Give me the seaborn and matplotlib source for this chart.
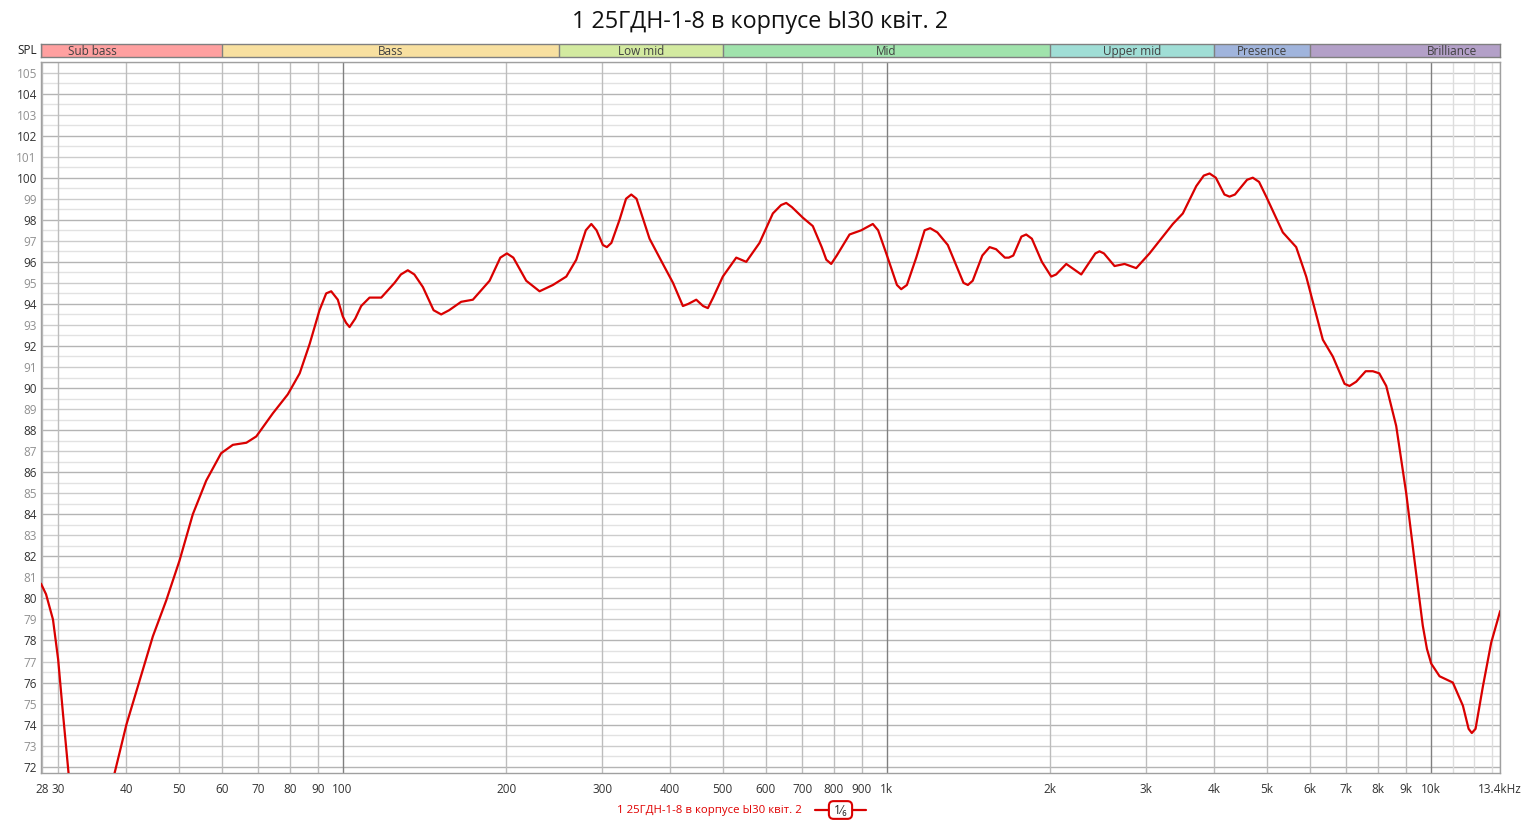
import numpy as np
import pandas as pd
import seaborn as sns
import matplotlib.pyplot as plt
from matplotlib.lines import Line2D

freq_hz = [27.9, 28.5, 29.35, 30.0, 30.6, 31.35, 32.5, 34.5, 36.5, 38.1,
           40.05, 42.35, 44.8, 47.4, 50.15, 53.05, 56.15, 59.8, 62.85, 66.55,
           69.4, 74.45, 79.3, 83.4, 87.0, 90.7, 93.3, 95.3, 98.0, 100.1,
           101.5, 103.0, 105.5, 108.2, 112.1, 117.8, 124.6, 128, 131.8, 135.5,
           140.5, 147, 151.8, 157, 165.2, 173.6, 186.3, 195, 200.5, 206,
           217.6, 230.2, 243.6, 257.8, 268.9, 280, 286.6, 293, 301, 306.1,
           312, 323.0, 332, 339.4, 347, 366.7, 388.0, 405, 422.3, 432,
           446.9, 460, 469.4, 480, 500.1, 529.3, 552.2, 584.1, 618.0, 640,
           654.0, 670, 701.6, 731.9, 760, 775, 791.2, 810, 855.0, 898.5,
           943.6, 965, 998.8, 1045, 1064, 1090, 1134, 1175, 1203, 1240,
           1296, 1385, 1411, 1440, 1500, 1547, 1590, 1650, 1678, 1710,
           1770, 1806, 1850, 1930, 2008, 2050, 2140, 2280, 2420, 2463,
           2510, 2625, 2739, 2877, 3044, 3360, 3505, 3710, 3830, 3925,
           4030, 4180, 4271, 4370, 4600, 4713, 4840, 4989, 5352, 5663,
           5909, 6339, 6613, 6950, 7097, 7300, 7600, 7834, 8050, 8291,
           8648, 9023, 9346, 9679, 9850, 10030, 10390, 10990, 11470, 11750,
           11910, 12100, 12480, 12930, 13430]
spl_db = [80.7, 80.2, 79.0, 77.1, 74.6, 71.7, 69.5, 67.5, 69.5, 71.7,
          74.0, 76.1, 78.2, 79.9, 81.8, 84.0, 85.6, 86.9, 87.3, 87.4,
          87.7, 88.8, 89.7, 90.7, 92.1, 93.7, 94.5, 94.6, 94.2, 93.4,
          93.1, 92.9, 93.3, 93.9, 94.3, 94.3, 95.0, 95.4, 95.6, 95.4,
          94.8, 93.7, 93.5, 93.7, 94.1, 94.2, 95.1, 96.2, 96.4, 96.2,
          95.1, 94.6, 94.9, 95.3, 96.1, 97.5, 97.8, 97.5, 96.8, 96.7,
          96.9, 98.0, 99.0, 99.2, 99.0, 97.1, 95.9, 95.0, 93.9, 94.0,
          94.2, 93.9, 93.8, 94.3, 95.3, 96.2, 96.0, 96.9, 98.3, 98.7,
          98.8, 98.6, 98.1, 97.7, 96.7, 96.1, 95.9, 96.3, 97.3, 97.5,
          97.8, 97.5, 96.4, 94.9, 94.7, 94.9, 96.2, 97.5, 97.6, 97.4,
          96.8, 95.0, 94.9, 95.1, 96.3, 96.7, 96.6, 96.2, 96.2, 96.3,
          97.2, 97.3, 97.1, 96.0, 95.3, 95.4, 95.9, 95.4, 96.4, 96.5,
          96.4, 95.8, 95.9, 95.7, 96.4, 97.8, 98.3, 99.6, 100.1, 100.2,
          100.0, 99.2, 99.1, 99.2, 99.9, 100.0, 99.8, 99.1, 97.4, 96.7,
          95.3, 92.3, 91.5, 90.2, 90.1, 90.3, 90.8, 90.8, 90.7, 90.1,
          88.2, 85.0, 81.8, 78.7, 77.6, 76.9, 76.3, 76.0, 74.9, 73.8,
          73.6, 73.8, 75.8, 77.9, 79.4]

tick_freqs = [28, 30, 40, 50, 60, 70, 80, 90, 100, 200, 300, 400, 500, 600, 700,
              800, 900, 1000, 2000, 3000, 4000, 5000, 6000, 7000, 8000, 9000,
              10000, 13400]
tick_labels = ['28', '30', '40', '50', '60', '70', '80', '90', '100', '200', '300',
               '400', '500', '600', '700', '800', '900', '1k', '2k', '3k', '4k',
               '5k', '6k', '7k', '8k', '9k', '10k', '13.4kHz']

band_names = ['Sub bass', 'Bass', 'Low mid', 'Mid', 'Upper mid', 'Presence', 'Brilliance']
band_edges = [20, 60, 250, 500, 2000, 4000, 6000, 20000]
band_colors = ['#FFA0A0', '#F8E0A0', '#D3EAA0', '#A0E3AC', '#A0DED6', '#A0B4DC', '#B3A0C8']

title = '1 25ГДН-1-8 в корпусе Ы30 квіт. 2'

sns.set_style('white')
plt.rcParams['font.family'] = ['Open Sans', 'DejaVu Sans']

W, H = 1521, 822
fig = plt.figure(figsize=(W / 100, H / 100), dpi=100)
ax = fig.add_axes([41 / W, 49 / H, 1459 / W, 711 / H])
band_ax = fig.add_axes([41 / W, (H - 57) / H, 1459 / W, 13 / H])

x_lo, x_hi = 27.9, 13420
y_lo, y_hi = 71.7, 105.5

#grid lines first so the curve sits on top
for v in np.arange(72, 105.6, 0.5):
    if v % 2 == 0:
        c = '#b4b4b4'
    elif v % 1 == 0:
        c = '#cccccc'
    else:
        c = '#e2e2e2'
    ax.axhline(v, color=c, lw=1, zorder=1)
for f in tick_freqs:
    c = '#808080' if f in (100, 1000, 10000) else '#bdbdbd'
    ax.axvline(f, color=c, lw=1, zorder=1)
for f in (11000, 12000, 13000):
    ax.axvline(f, color='#dddddd', lw=1, zorder=1)

df = pd.DataFrame({'freq': freq_hz, 'spl': spl_db})
sns.lineplot(data=df, x='freq', y='spl', ax=ax, color='#d90000', lw=1.6,
             zorder=3, sort=False)
ax.lines[-1].set_solid_joinstyle('round')

ax.set_xscale('log')
ax.set_xlim(x_lo, x_hi)
ax.set_ylim(y_lo, y_hi)
ax.set_xticks(tick_freqs)
ax.set_xticklabels(tick_labels)
ax.minorticks_off()
ax.set_yticks(range(72, 106))
ax.set_yticklabels([str(v) for v in range(72, 106)])
for lab, v in zip(ax.get_yticklabels(), range(72, 106)):
    lab.set_color('#333333' if v % 2 == 0 else '#909090')
ax.tick_params(axis='x', length=0, pad=7, labelsize=8.5, labelcolor='#333333')
ax.tick_params(axis='y', length=0, pad=3, labelsize=8.5)
ax.set_xlabel('')
ax.set_ylabel('')
for s in ax.spines.values():
    s.set_color('#a0a0a0')
    s.set_linewidth(1)

#frequency band strip
band_ax.set_xscale('log')
band_ax.set_xlim(x_lo, x_hi)
band_ax.set_ylim(0, 1)
for name, lo, hi, col in zip(band_names, band_edges[:-1], band_edges[1:], band_colors):
    band_ax.axvspan(lo, hi, color=col, zorder=1)
    band_ax.axvline(max(lo, x_lo), color='#808080', lw=1, zorder=2)
    band_ax.text(np.sqrt(lo * hi), 0.45, name, ha='center', va='center',
                 fontsize=8.5, color='#404040')
band_ax.set_xticks([])
band_ax.set_yticks([])
band_ax.minorticks_off()
for s in band_ax.spines.values():
    s.set_color('#808080')
    s.set_linewidth(1)

fig.text(37 / W, 1 - 50 / H, 'SPL', ha='right', va='center', fontsize=8.5, color='#222222')
fig.text(0.5, 1 - 22 / H, title, ha='center', va='center', fontsize=16.8, color='#111111')

#legend under the axis
ly = 1 - 810 / H
fig.text(802 / W, ly, title, ha='right', va='center', fontsize=8.2, color='#e00000')
fig.add_artist(Line2D([815 / W, 866 / W], [ly, ly], color='#d90000', lw=1.6,
                      transform=fig.transFigure))
fig.text(840.5 / W, ly, ' 1\u2044\u2086 ', ha='center', va='center', fontsize=8.5,
         color='#222222',
         bbox=dict(boxstyle='round,pad=0.2,rounding_size=0.4', fc='white',
                   ec='#d90000', lw=1.5))

fig.savefig('out.png', dpi=100)
